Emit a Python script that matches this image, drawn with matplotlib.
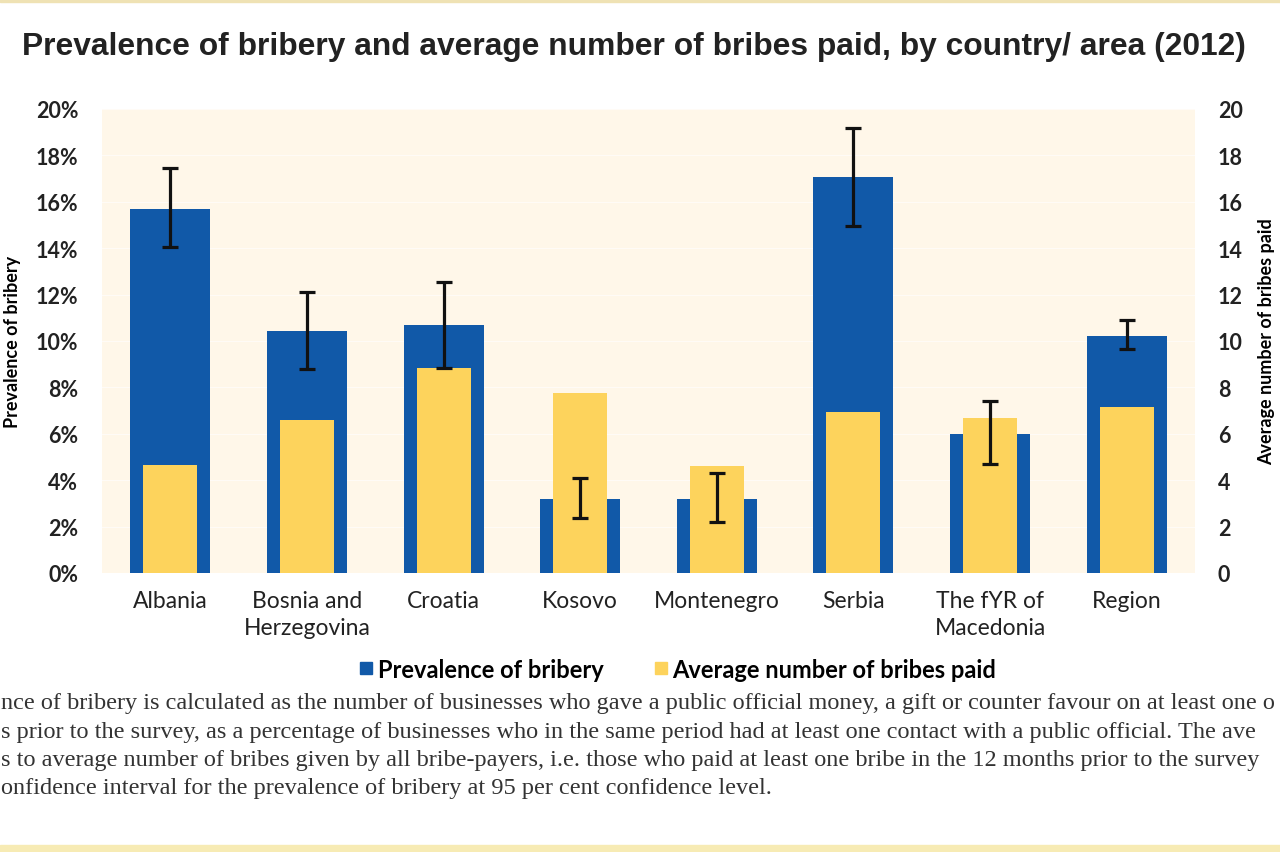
import matplotlib.pyplot as plt
from matplotlib.patches import Rectangle
from matplotlib.lines import Line2D

# data
laender = ["Albania", "Bosnia and\nHerzegovina", "Croatia", "Kosovo", "Montenegro",
           "Serbia", "The fYR of\nMacedonia", "Region"]
prevalens = [15.7, 10.45, 10.7, 3.2, 3.2, 17.05, 6.0, 10.2]      # prosent
feil_nedre = [14.05, 8.8, 8.85, 2.35, 2.2, 14.95, 4.7, 9.65]
feil_ovre = [17.45, 12.1, 12.55, 4.1, 4.3, 19.2, 7.4, 10.9]
snitt_bestikkelser = [4.65, 6.6, 8.85, 7.75, 4.6, 6.95, 6.7, 7.15]

tittel = "Prevalence of bribery and average number of bribes paid, by country/ area (2012)"
# fotnoten er kuttet i kanten av bildet, bare den synlige delen er med
fotnote = [
    "nce of bribery is calculated as the number of businesses who gave a public official money, a gift or counter favour on at least one o",
    "s prior to the survey, as a percentage of businesses who in the same period had at least one contact with a public official. The ave",
    "s to average number of bribes given by all bribe-payers, i.e. those who paid at least one bribe in the 12 months prior to the survey",
    "onfidence interval for the prevalence of bribery at 95 per cent confidence level.",
]

blaa = "#1159a8"
gul = "#fdd35c"
bakgrunn = "#fff7e9"

plt.rcParams['font.family'] = ['Lato', 'DejaVu Sans']

fig = plt.figure(figsize=(12.8, 8.53), dpi=100)
ax = fig.add_axes([102 / 1280, 279 / 853, 1093 / 1280, 464 / 853])
ax2 = ax.twinx()

x = list(range(len(laender)))
ax.set_facecolor(bakgrunn)
ax.bar(x, prevalens, width=0.585, color=blaa, zorder=2)
ax2.bar(x, snitt_bestikkelser, width=0.395, color=gul, zorder=2)

nedre = [p - l for p, l in zip(prevalens, feil_nedre)]
ovre = [u - p for p, u in zip(prevalens, feil_ovre)]
ax2.errorbar(x, prevalens, yerr=[nedre, ovre], fmt='none', ecolor="#111111",
             elinewidth=2.3, capsize=5.5, capthick=2.3, zorder=5)

for a in (ax, ax2):
    a.set_ylim(0, 20)
    a.set_xlim(-0.5, len(laender) - 0.5)
    for s in a.spines.values():
        s.set_visible(False)
    a.tick_params(length=0)

yticks = list(range(0, 21, 2))
ax.set_yticks(yticks)
ax.set_yticklabels([f"{t}%" for t in yticks], fontsize=15.5, fontweight='bold', color="#222222")
ax.tick_params(axis='y', pad=17)
ax2.set_yticks(yticks)
ax2.set_yticklabels([str(t) for t in yticks], fontsize=15.5, fontweight='bold', color="#222222")
ax2.tick_params(axis='y', pad=16.5)
for t in yticks[1:]:
    ax.axhline(t, color="white", linewidth=0.8, alpha=0.6, zorder=1)

ax.set_xticks(x)
ax.set_xticklabels(laender, fontsize=16.5, color="#222222", linespacing=1.35)
ax.tick_params(axis='x', pad=12)

ax.set_ylabel("Prevalence of bribery", fontsize=13, fontweight='bold')
ax.yaxis.set_label_coords(-0.074, 0.5)
ax2.set_ylabel("Average number of bribes paid", fontsize=13, fontweight='bold', rotation=90)
ax2.yaxis.set_label_coords(1.0576, 0.5)

fig.text(0.4955, 1 - 47 / 853, tittel, ha='center', va='center', fontsize=22.9,
         fontweight='bold', family=['Liberation Sans', 'DejaVu Sans'], color="#222222")

handles = [Line2D([], [], marker='s', linestyle='none', markersize=8, color=blaa),
           Line2D([], [], marker='s', linestyle='none', markersize=8, color=gul)]
fig.legend(handles, ["Prevalence of bribery", "Average number of bribes paid"],
           loc='center', bbox_to_anchor=(0.5277, 1 - 670 / 853), ncol=2, frameon=False,
           prop={'weight': 'bold', 'size': 17}, handletextpad=0.0, columnspacing=1.9,
           handlelength=1.0)

for i, linje in enumerate(fotnote):
    fig.text(0.001, 1 - (704 + 28.3 * i) / 853, linje, ha='left', va='center',
             fontsize=17.5, family=['Liberation Serif', 'DejaVu Serif'], color="#333333")

fig.patches.append(Rectangle((0, 1 - 3 / 853), 1, 3 / 853, transform=fig.transFigure,
                             color="#efe2b4", zorder=0))
fig.patches.append(Rectangle((0, 0), 1, 7 / 853, transform=fig.transFigure,
                             color="#f7ebb4", zorder=0))

fig.savefig("out.png", dpi=100)
